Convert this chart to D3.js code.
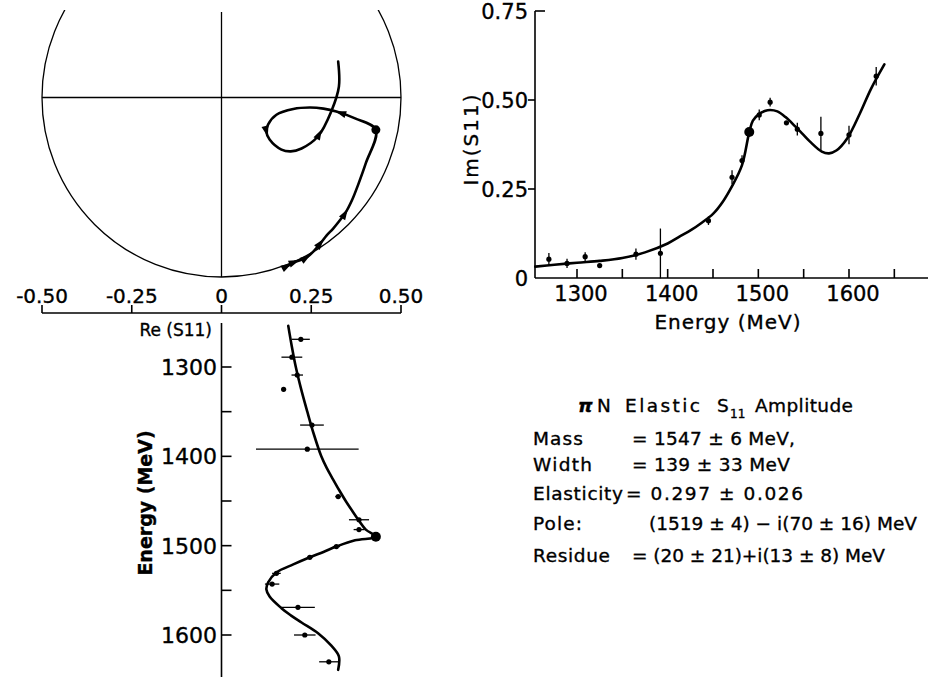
<!DOCTYPE html>
<html lang="en">
<head>
<meta charset="UTF-8">
<title>πN Elastic S11 Amplitude</title>
<script src="https://cdn.jsdelivr.net/npm/d3@7"></script>
<style>
    body { margin: 0; background: #fff; }
    svg { display: block; font-family: "DejaVu Sans", sans-serif; }
    svg text { stroke: #000; stroke-width: 0.35; }
    .curve { fill: none; stroke: #000; stroke-width: 2.6; stroke-linejoin: round; stroke-linecap: round; }
    .thin { fill: none; stroke: #000; stroke-width: 1.3; }
    .axis { stroke: #000; stroke-width: 1.6; }
    .bar { stroke: #000; stroke-width: 1.3; }
</style>
</head>
<body>
<div id="chart"></div>
<script>
    // ---- fit curve (energy, Re S11, Im S11)
    const fitE  = [1254, 1275, 1300, 1325, 1350, 1375, 1400, 1413, 1426, 1438, 1450, 1461, 1471, 1482, 1490, 1494, 1501, 1507, 1513, 1521, 1530, 1541, 1549, 1557, 1570, 1578, 1586, 1598, 1612, 1624, 1639];
    const fitRe = [0.186, 0.195, 0.207, 0.222, 0.239, 0.257, 0.278, 0.293, 0.311, 0.328, 0.346, 0.364, 0.381, 0.402, 0.430, 0.372, 0.320, 0.284, 0.246, 0.200, 0.153, 0.130, 0.125, 0.134, 0.167, 0.193, 0.223, 0.269, 0.306, 0.327, 0.325];
    const fitIm = [0.032, 0.037, 0.043, 0.048, 0.056, 0.072, 0.097, 0.116, 0.135, 0.156, 0.180, 0.215, 0.258, 0.317, 0.410, 0.442, 0.461, 0.469, 0.472, 0.468, 0.452, 0.425, 0.404, 0.383, 0.355, 0.350, 0.358, 0.392, 0.462, 0.530, 0.600];

    // ---- measured points
    const dataE     = [1269, 1289, 1309, 1325, 1365, 1392, 1445, 1471, 1482, 1501, 1513, 1531, 1543, 1569, 1600, 1630];
    const dataRe    = [0.221, 0.196, 0.211, 0.173, 0.252, 0.239, 0.325, 0.383, 0.383, 0.320, 0.246, 0.153, 0.141, 0.213, 0.232, 0.299];
    const dataReErr = [0.025, 0.029, 0.016, 0.004, 0.033, 0.143, 0.008, 0.028, 0.015, 0.010, 0.008, 0.012, 0.020, 0.047, 0.030, 0.027];
    const dataIm    = [0.053, 0.041, 0.060, 0.035, 0.067, 0.069, 0.161, 0.283, 0.330, 0.458, 0.494, 0.436, 0.418, 0.406, 0.402, 0.567];
    const dataImErr = [0.017, 0.013, 0.012, 0.004, 0.016, 0.070, 0.012, 0.020, 0.015, 0.015, 0.012, 0.005, 0.018, 0.047, 0.026, 0.026];

    // big dot on the curves
    const markE = 1490, markRe = 0.430, markIm = 0.410;

    // arrows along the Argand trajectory
    const arrowE = [1254, 1300, 1350, 1400, 1450, 1500, 1550, 1600];

    // ticks
    const reTicks = [-0.5, -0.25, 0, 0.25, 0.5];
    const reTickLabels = ["-0.50", "-0.25", "0", "0.25", "0.50"];
    const eTicksTop = [1300, 1350, 1400, 1450, 1500, 1550, 1600, 1650];
    const eTicksSide = [1300, 1350, 1400, 1450, 1500, 1550, 1600];
    const imTicks = [0, 0.25, 0.5, 0.75];
    const imTickLabels = ["0", "0.25", "0.50", "0.75"];

    // text block
    const infoLabels = ["Mass", "Width", "Elasticity", "Pole:", "Residue"];
    const infoValues = ["= 1547 ± 6 MeV,", "= 139 ± 33 MeV", "= 0.297 ± 0.026", "(1519 ± 4) − i(70 ± 16) MeV", "= (20 ± 21)+i(13 ± 8) MeV"];

    // =============================
    // SVG + scales
    // =============================
    const W = 929, H = 677;
    const svg = d3.select("#chart").append("svg").attr("width", W).attr("height", H);

    const xRe  = d3.scaleLinear().domain([-0.5, 0.5]).range([42, 401]);
    const yArg = d3.scaleLinear().domain([0, 0.5]).range([277, 97.5]);
    const yE   = d3.scaleLinear().domain([1300, 1600]).range([367, 635]);
    const xE   = d3.scaleLinear().domain([1300, 1600]).range([577, 849]);
    const yIm  = d3.scaleLinear().domain([0, 0.75]).range([278, 11]);

    const fit = fitE.map((e, i) => ({ e: e, re: fitRe[i], im: fitIm[i] }));
    const pts = dataE.map((e, i) => ({ e: e, re: dataRe[i], rErr: dataReErr[i], im: dataIm[i], iErr: dataImErr[i] }));

    const reAt = d3.scaleLinear().domain(fitE).range(fitRe).clamp(true);
    const imAt = d3.scaleLinear().domain(fitE).range(fitIm).clamp(true);

    // =============================
    // 1. Argand diagram
    // =============================
    svg.append("defs").append("clipPath").attr("id", "argClip")
        .append("rect").attr("x", 0).attr("y", 10).attr("width", W).attr("height", H);

    const arg = svg.append("g");
    arg.append("circle")
        .attr("class", "thin")
        .attr("cx", xRe(0)).attr("cy", yArg(0.5))
        .attr("r", xRe(0.5) - xRe(0))
        .attr("clip-path", "url(#argClip)");
    arg.append("line").attr("class", "thin")
        .attr("x1", xRe(-0.5)).attr("x2", xRe(0.5))
        .attr("y1", yArg(0.5)).attr("y2", yArg(0.5));
    arg.append("line").attr("class", "thin")
        .attr("x1", xRe(0)).attr("x2", xRe(0))
        .attr("y1", 12).attr("y2", yArg(0));

    const argLine = d3.line()
        .x(d => xRe(d.re)).y(d => yArg(d.im))
        .curve(d3.curveCatmullRom.alpha(0.5));
    arg.append("path").attr("class", "curve").attr("d", argLine(fit));

    arg.selectAll("path.arrow")
        .data(arrowE)
        .enter().append("path")
        .attr("class", "arrow")
        .attr("d", "M4,0 L-7,-3.6 L-7,3.6 Z")
        .attr("fill", "#000")
        .attr("transform", e => {
            const x = xRe(reAt(e)), y = yArg(imAt(e));
            const dx = xRe(reAt(e + 2)) - xRe(reAt(e - 2));
            const dy = yArg(imAt(e + 2)) - yArg(imAt(e - 2));
            const ang = Math.atan2(dy, dx) * 180 / Math.PI;
            return `translate(${x},${y}) rotate(${ang})`;
        });

    arg.append("circle")
        .attr("cx", xRe(markRe)).attr("cy", yArg(markIm)).attr("r", 4.5).attr("fill", "#000");

    // Re axis
    const reAxisY = 313;
    arg.append("line").attr("class", "axis")
        .attr("x1", xRe(-0.5)).attr("x2", xRe(0.5))
        .attr("y1", reAxisY).attr("y2", reAxisY);
    arg.selectAll("line.retick")
        .data(reTicks)
        .enter().append("line")
        .attr("class", "axis retick")
        .attr("x1", d => xRe(d)).attr("x2", d => xRe(d))
        .attr("y1", reAxisY).attr("y2", reAxisY - 8);
    arg.selectAll("text.relabel")
        .data(reTicks)
        .enter().append("text")
        .attr("class", "relabel")
        .attr("x", d => xRe(d)).attr("y", 303)
        .attr("text-anchor", "middle")
        .attr("font-size", 20)
        .text((d, i) => reTickLabels[i]);
    arg.append("text")
        .attr("x", 212).attr("y", 336)
        .attr("text-anchor", "end")
        .attr("font-size", 17)
        .text("Re (S11)");

    // =============================
    // 2. Re(S11) vs energy (below)
    // =============================
    const side = svg.append("g");
    side.append("line").attr("class", "axis")
        .attr("x1", xRe(0)).attr("x2", xRe(0))
        .attr("y1", 323).attr("y2", H);
    side.selectAll("line.etick")
        .data(eTicksSide)
        .enter().append("line")
        .attr("class", "axis etick")
        .attr("x1", xRe(0)).attr("x2", xRe(0) + 10)
        .attr("y1", d => yE(d)).attr("y2", d => yE(d));
    side.selectAll("text.elabel")
        .data(eTicksSide.filter(d => d % 100 === 0))
        .enter().append("text")
        .attr("class", "elabel")
        .attr("x", 217).attr("y", d => yE(d) + 8)
        .attr("text-anchor", "end")
        .attr("font-size", 22)
        .text(d => d);
    side.append("text")
        .attr("transform", "translate(152,503) rotate(-90)")
        .attr("text-anchor", "middle")
        .attr("font-size", 19)
        .attr("font-weight", "bold")
        .text("Energy (MeV)");

    const sideLine = d3.line()
        .x(d => xRe(d.re)).y(d => yE(d.e))
        .curve(d3.curveCatmullRom.alpha(0.5));
    side.append("path").attr("class", "curve").attr("d", sideLine(fit));

    side.selectAll("line.hbar")
        .data(pts)
        .enter().append("line")
        .attr("class", "bar hbar")
        .attr("x1", d => xRe(d.re - d.rErr)).attr("x2", d => xRe(d.re + d.rErr))
        .attr("y1", d => yE(d.e)).attr("y2", d => yE(d.e));
    side.selectAll("circle.pt")
        .data(pts)
        .enter().append("circle")
        .attr("class", "pt")
        .attr("cx", d => xRe(d.re)).attr("cy", d => yE(d.e)).attr("r", 2.6);
    side.append("circle")
        .attr("cx", xRe(markRe)).attr("cy", yE(markE)).attr("r", 5).attr("fill", "#000");

    // =============================
    // 3. Im(S11) vs energy (top right)
    // =============================
    const imPanel = svg.append("g");
    const axX = 535, axY = yIm(0);
    imPanel.append("line").attr("class", "axis")
        .attr("x1", axX).attr("x2", axX).attr("y1", yIm(0.75)).attr("y2", axY);
    imPanel.append("line").attr("class", "axis")
        .attr("x1", axX).attr("x2", 928).attr("y1", axY).attr("y2", axY);
    imPanel.selectAll("line.xtick")
        .data(eTicksTop)
        .enter().append("line")
        .attr("class", "axis xtick")
        .attr("x1", d => xE(d)).attr("x2", d => xE(d))
        .attr("y1", axY).attr("y2", axY - 9);
    imPanel.selectAll("text.xlabel")
        .data(eTicksTop.filter(d => d % 100 === 0))
        .enter().append("text")
        .attr("class", "xlabel")
        .attr("x", d => xE(d) + 4).attr("y", 301)
        .attr("text-anchor", "middle")
        .attr("font-size", 21)
        .text(d => d);
    imPanel.selectAll("line.ytick")
        .data(imTicks.slice(1))
        .enter().append("line")
        .attr("class", "axis ytick")
        .attr("x1", axX).attr("x2", d => d === 0.75 ? axX + 10 : axX - 7)
        .attr("y1", d => yIm(d)).attr("y2", d => yIm(d));
    imPanel.selectAll("text.ylabel")
        .data(imTicks)
        .enter().append("text")
        .attr("class", "ylabel")
        .attr("x", 528).attr("y", d => yIm(d) + 8)
        .attr("text-anchor", "end")
        .attr("font-size", 21)
        .text((d, i) => imTickLabels[i]);
    imPanel.append("text")
        .attr("transform", "translate(478,139) rotate(-90)")
        .attr("text-anchor", "middle")
        .attr("font-size", 20)
        .attr("letter-spacing", 2)
        .text("Im(S11)");
    imPanel.append("text")
        .attr("x", 728).attr("y", 329)
        .attr("text-anchor", "middle")
        .attr("font-size", 20)
        .attr("letter-spacing", 1)
        .text("Energy (MeV)");

    const imLine = d3.line()
        .x(d => xE(d.e)).y(d => yIm(d.im))
        .curve(d3.curveCatmullRom.alpha(0.5));
    imPanel.append("path").attr("class", "curve").attr("d", imLine(fit));

    imPanel.selectAll("line.vbar")
        .data(pts)
        .enter().append("line")
        .attr("class", "bar vbar")
        .attr("x1", d => xE(d.e)).attr("x2", d => xE(d.e))
        .attr("y1", d => yIm(d.im - d.iErr)).attr("y2", d => yIm(d.im + d.iErr));
    imPanel.selectAll("circle.pt")
        .data(pts)
        .enter().append("circle")
        .attr("class", "pt")
        .attr("cx", d => xE(d.e)).attr("cy", d => yIm(d.im)).attr("r", 2.6);
    imPanel.append("circle")
        .attr("cx", xE(markE)).attr("cy", yIm(markIm)).attr("r", 5).attr("fill", "#000");

    // =============================
    // 4. Parameter text
    // =============================
    const info = svg.append("g").attr("font-size", 18.5);
    const title = info.append("g");
    title.append("text").attr("x", 578).attr("y", 412).attr("font-style", "italic").attr("font-weight", "bold").text("π");
    title.append("text").attr("x", 597).attr("y", 412).text("N");
    title.append("text").attr("x", 625).attr("y", 412).attr("textLength", 75).attr("lengthAdjust", "spacing").text("Elastic");
    title.append("text").attr("x", 717).attr("y", 412).text("S");
    title.append("text").attr("x", 730).attr("y", 418).attr("font-size", 12).text("11");
    title.append("text").attr("x", 755).attr("y", 412).attr("textLength", 98).attr("lengthAdjust", "spacing").text("Amplitude");

    // layout of the rows (baseline, start of value, widths in the reference)
    const rowY = [445, 471, 500, 530, 562];
    const valX = [632, 632, 626, 649, 632];
    const labW = [50, 59, 90, 49, 77];
    const valW = [163, 158, 177, 268, 253];
    info.selectAll("text.lab")
        .data(infoLabels)
        .enter().append("text")
        .attr("class", "lab")
        .attr("x", 533).attr("y", (d, i) => rowY[i])
        .attr("textLength", (d, i) => labW[i]).attr("lengthAdjust", "spacing")
        .text(d => d);
    info.selectAll("text.val")
        .data(infoValues)
        .enter().append("text")
        .attr("class", "val")
        .attr("x", (d, i) => valX[i]).attr("y", (d, i) => rowY[i])
        .attr("textLength", (d, i) => valW[i]).attr("lengthAdjust", "spacing")
        .text(d => d);
</script>
</body>
</html>
